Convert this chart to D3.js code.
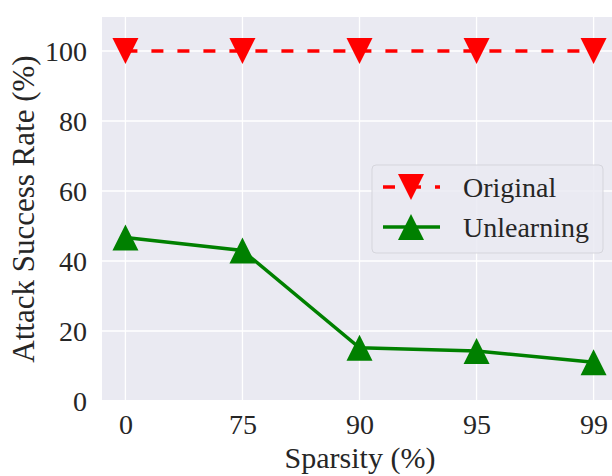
<!DOCTYPE html>
<html><head><meta charset="utf-8">
<script src="https://cdn.jsdelivr.net/npm/d3@7/dist/d3.min.js"></script>
<style>body{margin:0;background:#fff;} svg{display:block;}</style>
</head><body>
<svg id="c" width="612" height="476"></svg>
<script>
const categories = ["0", "75", "90", "95", "99"];
const original = [100, 100, 100, 100, 100];
const unlearning = [46.7, 43.0, 15.2, 14.3, 11.1];
const yTicks = [0, 20, 40, 60, 80, 100];
const seriesNames = ["Original", "Unlearning"];

(function () {
const svg = d3.select("#c");
const font = "'Liberation Serif', 'Times New Roman', serif";
const pL = 102, pR = 617, pT = 16, pB = 401;

const x = d3.scaleLinear().domain([-0.2, categories.length - 1 + 0.2]).range([pL, pR]);
const y = d3.scaleLinear().domain([0, 110]).range([pB, pT]);

const clipId = "plotclip";
svg.append("defs").append("clipPath").attr("id", clipId)
  .append("rect").attr("x", pL).attr("y", pT + 1).attr("width", 612 - pL).attr("height", pB - pT - 2);

svg.append("rect").attr("x", pL).attr("y", pT + 1).attr("width", pR - pL).attr("height", pB - pT - 2)
  .attr("fill", "#eaeaf2");

const grid = svg.append("g");
grid.selectAll(".gx").data(categories).join("line")
  .attr("x1", (d, i) => x(i)).attr("x2", (d, i) => x(i))
  .attr("y1", pT + 1).attr("y2", pB - 1)
  .attr("stroke", "#fff").attr("stroke-width", 1.3);
grid.selectAll(".gy").data(yTicks).join("line")
  .attr("x1", pL).attr("x2", pR)
  .attr("y1", d => y(d)).attr("y2", d => y(d))
  .attr("stroke", "#fff").attr("stroke-width", 1.3);

const xAxis = d3.axisBottom(x).tickValues(categories.map((d, i) => i)).tickFormat(i => categories[i]).tickSize(0).tickPadding(14);
const gx = svg.append("g").attr("transform", `translate(0,${pB - 1})`).call(xAxis);
gx.select(".domain").remove();
gx.selectAll("text").attr("font-family", font).attr("font-size", 28).attr("fill", "#262626");

const yAxis = d3.axisLeft(y).tickValues(yTicks).tickSize(0).tickPadding(15);
const gy = svg.append("g").attr("transform", `translate(${pL},0)`).call(yAxis);
gy.select(".domain").remove();
gy.selectAll("text").attr("font-family", font).attr("font-size", 28).attr("fill", "#262626").attr("dy", "0.34em");

svg.append("text").attr("x", 360).attr("y", 468).attr("text-anchor", "middle")
  .attr("font-family", font).attr("font-size", 30).attr("fill", "#262626").text("Sparsity (%)");
svg.append("text").attr("transform", `translate(34,209) rotate(-90)`).attr("text-anchor", "middle")
  .attr("font-family", font).attr("font-size", 31).attr("fill", "#262626").text("Attack Success Rate (%)");

const plot = svg.append("g").attr("clip-path", `url(#${clipId})`);
const line = d3.line().x((d, i) => x(i)).y(d => y(d));

const tri = 13;
function upTri(cx, cy) { return `M${cx},${cy - tri}L${cx + tri},${cy + tri}L${cx - tri},${cy + tri}Z`; }
function downTri(cx, cy) { return `M${cx},${cy + tri}L${cx + tri},${cy - tri}L${cx - tri},${cy - tri}Z`; }

plot.append("path").datum(original).attr("d", line).attr("fill", "none")
  .attr("stroke", "#ff0000").attr("stroke-width", 3.5).attr("stroke-dasharray", "12,14");
plot.selectAll(".mo").data(original).join("path")
  .attr("d", (d, i) => downTri(x(i), y(d))).attr("fill", "#ff0000");

plot.append("path").datum(unlearning).attr("d", line).attr("fill", "none")
  .attr("stroke", "#008000").attr("stroke-width", 3.5);
plot.selectAll(".mu").data(unlearning).join("path")
  .attr("d", (d, i) => upTri(x(i), y(d))).attr("fill", "#008000");

const lg = svg.append("g");
lg.append("rect").attr("x", 372).attr("y", 165).attr("width", 231).attr("height", 88).attr("rx", 4)
  .attr("fill", "#eaeaf2").attr("fill-opacity", 0.85).attr("stroke", "#d5d5dc").attr("stroke-width", 1);
const rows = [187, 227];
lg.append("line").attr("x1", 383).attr("x2", 440).attr("y1", rows[0]).attr("y2", rows[0])
  .attr("stroke", "#ff0000").attr("stroke-width", 3.5).attr("stroke-dasharray", "12,14");
lg.append("path").attr("d", downTri(411, rows[0])).attr("fill", "#ff0000");
lg.append("line").attr("x1", 383).attr("x2", 440).attr("y1", rows[1]).attr("y2", rows[1])
  .attr("stroke", "#008000").attr("stroke-width", 3.5);
lg.append("path").attr("d", upTri(411, rows[1])).attr("fill", "#008000");
lg.selectAll(".lt").data(seriesNames).join("text")
  .attr("x", 463).attr("y", (d, i) => rows[i]).attr("dy", "0.34em")
  .attr("font-family", font).attr("font-size", 28).attr("fill", "#262626").text(d => d);
})();
</script>
</body></html>
